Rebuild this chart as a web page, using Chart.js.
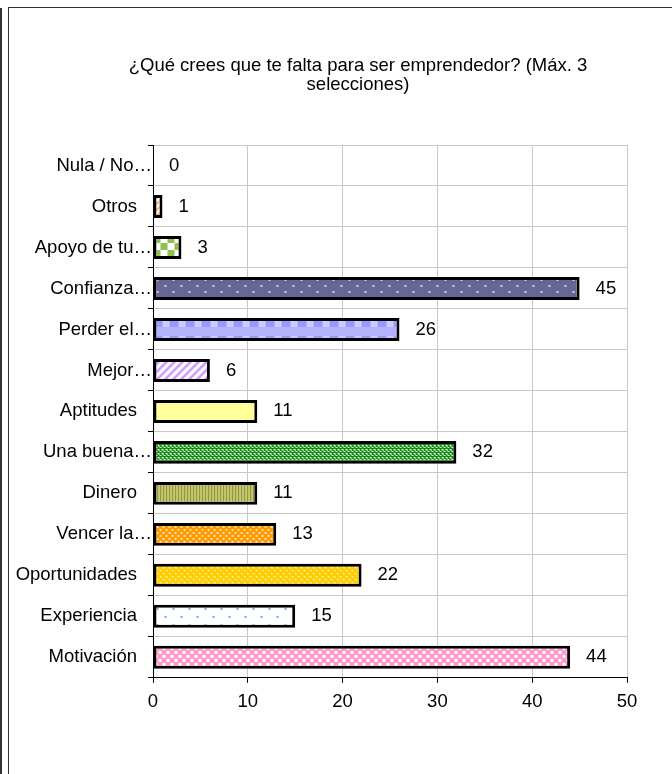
<!DOCTYPE html>
<html>
<head>
<meta charset="utf-8">
<script src="https://cdn.jsdelivr.net/npm/chart.js@4/dist/chart.umd.min.js"></script>
<style>
  body { margin: 0; background: #fff; }
  #wrap { position: relative; width: 672px; height: 774px; overflow: hidden; }
  #myChart { position: absolute; left: 0; top: 0; }
  .edge { position: absolute; background: #333; }
</style>
</head>
<body>
<div id="wrap">
  <canvas id="myChart" width="672" height="774"></canvas>
  <div class="edge" style="left:0;top:8px;width:2px;height:766px"></div>
  <div class="edge" style="left:8px;top:7px;width:1px;height:767px"></div>
  <div class="edge" style="left:8px;top:7px;width:664px;height:1px"></div>
</div>
<script>
// data
const categories = ['Nula / No…', 'Otros', 'Apoyo de tu…', 'Confianza…', 'Perder el…', 'Mejor…', 'Aptitudes',
  'Una buena…', 'Dinero', 'Vencer la…', 'Oportunidades', 'Experiencia', 'Motivación'];
const votes = [0, 1, 3, 45, 26, 6, 11, 32, 11, 13, 22, 15, 44];
const xTicks = [0, 10, 20, 30, 40, 50];
const titleLines = ['¿Qué crees que te falta para ser emprendedor? (Máx. 3', 'selecciones)'];

const FONT = "'Liberation Sans', Arial, sans-serif";
Chart.defaults.font.family = FONT;
Chart.defaults.font.size = 18.5;
Chart.defaults.color = '#000';

// little tiles for the Excel-like fills
function tile(w, h, paint) {
  const c = document.createElement('canvas');
  c.width = w; c.height = h;
  const g = c.getContext('2d');
  paint(g);
  return g.createPattern(c, 'repeat');
}

const fills = [
  '#ffffff', // nula
  tile(6, 6, g => { g.fillStyle = '#fff'; g.fillRect(0, 0, 6, 6); g.strokeStyle = '#f79646'; g.lineWidth = 1.5;
    g.beginPath(); g.moveTo(0, 6); g.lineTo(6, 0); g.stroke(); }),
  tile(14, 14, g => { g.fillStyle = '#fff'; g.fillRect(0, 0, 14, 14); g.fillStyle = '#92c050';
    g.fillRect(0, 0, 7, 7); g.fillRect(7, 7, 7, 7); }),
  tile(16, 12, g => { g.fillStyle = '#666699'; g.fillRect(0, 0, 16, 12); g.fillStyle = '#d0d0e4';
    g.fillRect(3, 2, 2, 2); g.fillRect(11, 8, 2, 2); }),
  tile(16, 18, g => { g.fillStyle = '#ccccff'; g.fillRect(0, 0, 16, 18); g.fillStyle = '#9999ff';
    g.fillRect(0, 0, 9, 9);
    for (let y = 9; y < 18; y++) for (let x = (y % 2); x < 16; x += 2) g.fillRect(x, y, 1, 1); }),
  tile(8, 8, g => { g.fillStyle = '#fff'; g.fillRect(0, 0, 8, 8); g.strokeStyle = '#cc99ff'; g.lineWidth = 2.5;
    g.beginPath(); g.moveTo(-2, 10); g.lineTo(10, -2); g.moveTo(-6, 6); g.lineTo(6, -6); g.moveTo(2, 14); g.lineTo(14, 2); g.stroke(); }),
  '#ffff99',
  tile(4, 4, g => { g.fillStyle = '#0a8a0a'; g.fillRect(0, 0, 4, 4); g.fillStyle = '#ffffff';
    g.fillRect(0, 0, 2, 1); g.fillRect(2, 2, 2, 1); g.fillRect(1, 1, 1, 1); }),
  tile(3, 2, g => { g.fillStyle = '#999933'; g.fillRect(0, 0, 3, 2); g.fillStyle = '#e8e8b0'; g.fillRect(2, 0, 1, 2); }),
  tile(6, 6, g => { g.fillStyle = '#ff9900'; g.fillRect(0, 0, 6, 6); g.fillStyle = '#ffe2b0';
    g.fillRect(0, 0, 2, 2); g.fillRect(3, 3, 2, 2); }),
  tile(6, 6, g => { g.fillStyle = '#ffcc00'; g.fillRect(0, 0, 6, 6); g.fillStyle = '#fff2b0';
    g.fillRect(0, 0, 2, 1); g.fillRect(3, 3, 2, 1); g.fillRect(1, 1, 1, 1); g.fillRect(4, 4, 1, 1); }),
  tile(16, 16, g => { g.fillStyle = '#fff'; g.fillRect(0, 0, 16, 16); g.fillStyle = '#6fa0e8';
    g.fillRect(3, 3, 2, 2); g.fillRect(11, 11, 2, 2); }),
  tile(8, 8, g => { g.fillStyle = '#ff99cc'; g.fillRect(0, 0, 8, 8); g.fillStyle = '#ffffff';
    g.fillRect(1, 1, 3, 3); g.fillRect(5, 5, 3, 3); })
];

// keep each pattern anchored on its own bar
const anchorPatterns = {
  id: 'anchorPatterns',
  beforeDatasetsDraw(chart) {
    chart.getDatasetMeta(0).data.forEach((bar, i) => {
      const f = fills[i];
      if (f && typeof f.setTransform === 'function') {
        f.setTransform(new DOMMatrix().translate(bar.base, bar.y - bar.height / 2));
      }
    });
  }
};

// category labels, values at bar ends, and the title
const textLayer = {
  id: 'textLayer',
  afterDraw(chart) {
    const ctx = chart.ctx;
    const area = chart.chartArea;
    const y = chart.scales.y;
    ctx.save();
    ctx.fillStyle = '#000';
    ctx.font = '18.5px ' + FONT;
    ctx.textBaseline = 'middle';
    categories.forEach((lab, i) => {
      const py = y.getPixelForValue(i);
      ctx.textAlign = 'right';
      ctx.fillText(lab, lab.endsWith('…') ? area.left - 1 : area.left - 16, py);
    });
    ctx.textAlign = 'left';
    chart.getDatasetMeta(0).data.forEach((bar, i) => {
      ctx.fillText(String(votes[i]), bar.x + 16, bar.y);
    });
    ctx.textAlign = 'center';
    ctx.textBaseline = 'alphabetic';
    ctx.font = '18.5px ' + FONT;
    titleLines.forEach((t, k) => ctx.fillText(t, 358, 71 + k * 19));
    ctx.restore();
  }
};

const data = {
  labels: categories,
  datasets: [{
    label: 'Votos',
    data: votes,
    backgroundColor: fills,
    borderColor: '#000',
    borderWidth: 3,
    borderSkipped: false,
    categoryPercentage: 1,
    barPercentage: 0.56
  }]
};

const config = {
  type: 'bar',
  data,
  options: {
    indexAxis: 'y',
    responsive: false,
    animation: false,
    layout: { padding: { left: 148, top: 145, right: 45, bottom: 53 } },
    scales: {
      x: {
        min: xTicks[0],
        max: xTicks[xTicks.length - 1],
        afterBuildTicks: scale => { scale.ticks = xTicks.map(v => ({ value: v })); },
        ticks: { color: '#000', padding: 8 },
        grid: { color: '#c8c8c8', tickColor: '#000', tickLength: 5 },
        border: { color: '#000', width: 1 }
      },
      y: {
        ticks: { display: false },
        grid: { color: '#c8c8c8', tickColor: '#000', tickLength: 5, offset: true },
        border: { color: '#000', width: 1 }
      }
    },
    plugins: {
      legend: { display: false },
      title: { display: false },
      tooltip: { enabled: false }
    }
  },
  plugins: [anchorPatterns, textLayer]
};

const myChart = new Chart(document.getElementById('myChart'), config);
</script>
</body>
</html>
